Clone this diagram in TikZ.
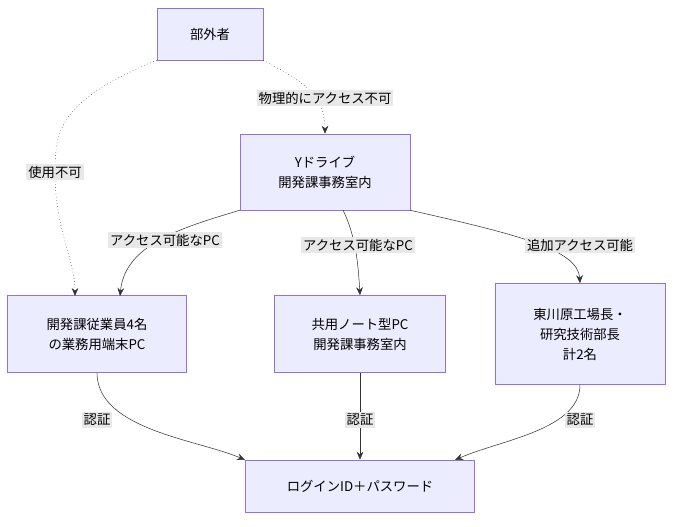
\documentclass[tikz,border=0pt]{standalone}
\usepackage{fontspec}
\setmainfont{Noto Sans CJK JP}
\usetikzlibrary{arrows.meta}
\definecolor{boxfill}{HTML}{ECECFF}
\definecolor{boxline}{HTML}{9370DB}
\definecolor{lblfill}{HTML}{E8E8E8}
\definecolor{edgecol}{HTML}{333333}

\begin{document}
\begin{tikzpicture}[x=0.75pt,y=-0.75pt,
box/.style={draw=boxline, fill=boxfill, align=center, font=\fontsize{10}{15}\selectfont, inner sep=0pt},
lbl/.style={fill=lblfill, font=\fontsize{10}{12}\selectfont, inner sep=1.5pt},
link/.style={draw=edgecol, -{Stealth[length=6pt,width=5pt]}},
dlink/.style={link, dotted}]
\useasboundingbox (0,0) rectangle (681,526);
\node[box, minimum width=106*0.75pt, minimum height=52*0.75pt] (outsider) at (210,34) {部外者};
\node[box, minimum width=170*0.75pt, minimum height=76*0.75pt] (ydrive) at (325,172) {Yドライブ\\開発課事務室内};
\node[box, minimum width=179*0.75pt, minimum height=77*0.75pt] (staffpc) at (97,334) {開発課従業員4名\\の業務用端末PC};
\node[box, minimum width=171*0.75pt, minimum height=77*0.75pt] (notepc) at (360,334) {共用ノート型PC\\開発課事務室内};
\node[box, minimum width=170*0.75pt, minimum height=101*0.75pt] (chief) at (580,334) {東川原工場長・\\研究技術部長\\計2名};
\node[box, minimum width=229*0.75pt, minimum height=52*0.75pt] (login) at (360,486) {ログインID＋パスワード};

% 部外者 から
\draw[dlink] (outsider.south west) .. controls (60,100) and (55,130) .. (55,172) .. controls (55,230) and (75,260) .. (75,296);
\node[lbl] at (55,172) {使用不可};
\draw[dlink] (outsider.south east) .. controls (290,75) and (325,90) .. (ydrive.north);
\node[lbl] at (325,98) {物理的にアクセス不可};

% Yドライブ から
\draw[link] (ydrive.south west) .. controls (180,228) and (125,245) .. (120,296);
\node[lbl] at (165,240) {アクセス可能なPC};
\draw[link] (343,210) .. controls (355,235) and (358,260) .. (notepc.north);
\node[lbl] at (358,245) {アクセス可能なPC};
\draw[link] (ydrive.south east) .. controls (520,235) and (578,250) .. (chief.north);
\node[lbl] at (580,245) {追加アクセス可能};

% 認証
\draw[link] (staffpc.south) .. controls (97,430) and (200,440) .. (245,460);
\node[lbl] at (97,420) {認証};
\draw[link] (notepc.south) -- (login.north);
\node[lbl] at (360,420) {認証};
\draw[link] (chief.south) .. controls (580,430) and (500,440) .. (455,460);
\node[lbl] at (580,420) {認証};
\end{tikzpicture}
\end{document}
